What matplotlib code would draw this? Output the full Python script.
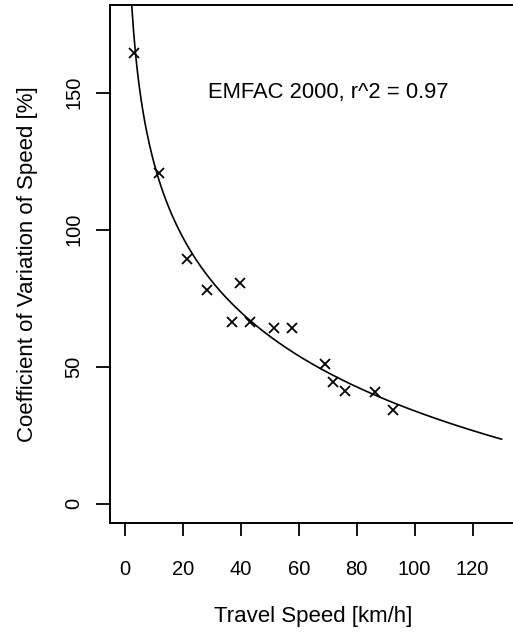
import numpy as np
import matplotlib
matplotlib.use("Agg")
import matplotlib.pyplot as plt

plt.rcParams["font.family"] = ["Liberation Sans", "DejaVu Sans"]

# Observed travel speed vs. coefficient of variation of speed
speed = [3.1, 11.8, 21.5, 28.4, 39.7, 37.0, 43.1, 51.5, 57.5, 69.0, 71.9, 75.9, 86.3, 92.4]
cv_speed = [164.4, 120.8, 89.2, 77.9, 80.6, 66.3, 66.3, 64.1, 64.1, 50.9, 44.3, 41.1, 40.8, 34.1]

# EMFAC 2000 logarithmic relation: cv = a + b * ln(speed)
fit_intercept = 214.8
fit_slope = -39.3
fit_range = (1.0, 130.0)

xticks = [0, 20, 40, 60, 80, 100, 120]
yticks = [0, 50, 100, 150]

fig = plt.figure(figsize=(5.13, 6.36), dpi=100)
ax = fig.add_axes([0.2144, 0.1781, 0.7926, 0.814])

xs = np.linspace(fit_range[0], fit_range[1], 400)
ax.plot(xs, fit_intercept + fit_slope * np.log(xs), color="black", lw=1.2)
ax.plot(speed, cv_speed, ls="none", marker="x", color="black", ms=7.5, mew=1.3)

ax.text(70, 150, "EMFAC 2000, r^2 = 0.97", ha="center", va="center", fontsize=15.8)

ax.set_xlim(-5.2, 135.2)
ax.set_ylim(-7, 182)
ax.set_xticks(xticks)
ax.set_yticks(yticks)
ax.set_xticklabels([str(v) for v in xticks], fontsize=14.5)
ax.set_yticklabels([str(v) for v in yticks], fontsize=14.5, rotation=90, va="center")
ax.tick_params(axis="x", direction="out", length=9.5, width=1.3, pad=17)
ax.tick_params(axis="y", direction="out", length=10, width=1.3, pad=9)
for s in ax.spines.values():
    s.set_linewidth(1.4)

ax.set_xlabel("Travel Speed [km/h]", fontsize=16)
ax.xaxis.set_label_coords(0.5, -0.1816)
ax.xaxis.label.set_va("center")
ax.set_ylabel("Coefficient of Variation of Speed [%]", fontsize=16)
ax.yaxis.set_label_coords(-0.203, 0.5)
ax.yaxis.label.set_va("center")

fig.savefig("out.png", dpi=100)
